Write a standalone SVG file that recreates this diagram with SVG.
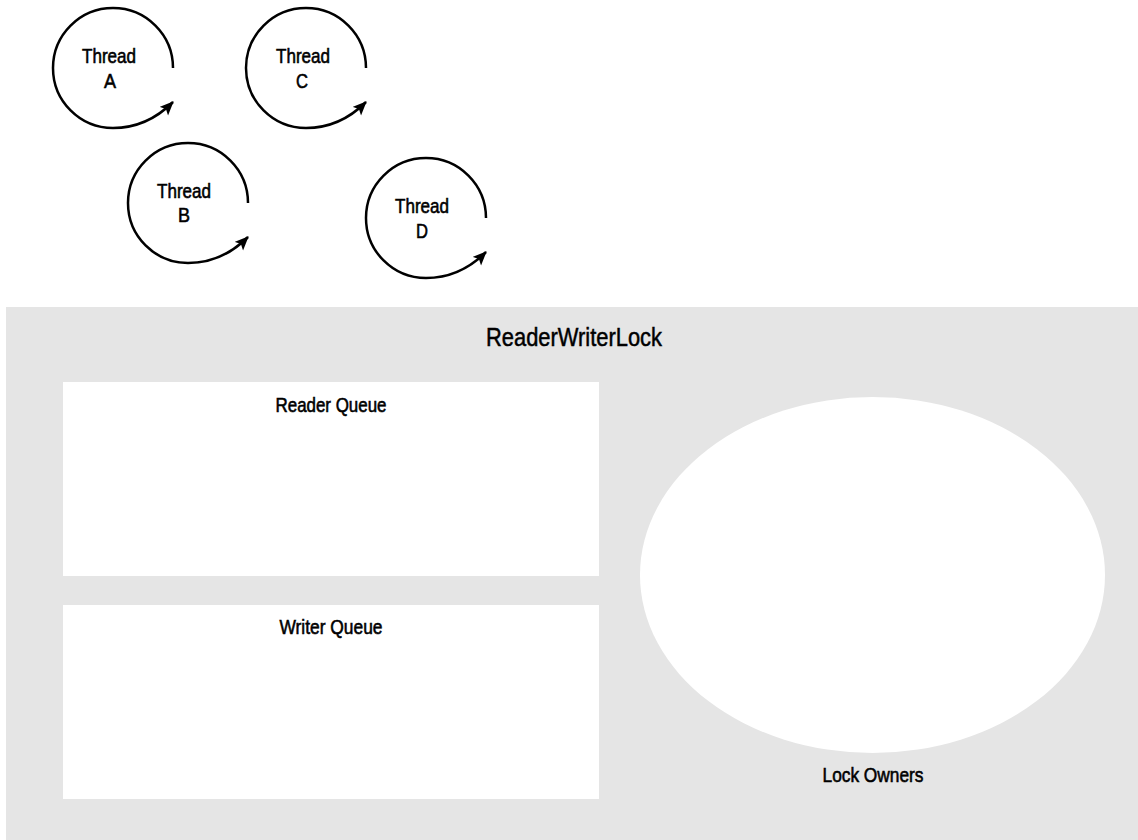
<svg xmlns="http://www.w3.org/2000/svg" width="1138" height="840" viewBox="0 0 1138 840">
<style>
.lbl{font-family:"Liberation Sans",Arial,sans-serif;font-size:21px;fill:#000;text-anchor:middle;stroke:#000;stroke-width:0.6}
.title{font-size:26px;stroke-width:0.5}
.spin{fill:none;stroke:#000;stroke-width:2.5}
.box{fill:#fff}
</style>
<defs>
<marker id="ah" markerUnits="userSpaceOnUse" markerWidth="16" markerHeight="14" refX="13" refY="6" orient="auto">
<path d="M0,0 L14,6 L0,12 L3,6 z" fill="#000"/>
</marker>
<path id="spiral" d="M60,0 A60,60 0 1 0 0,60 C25,60 44,50 60,34"/>
</defs>
<rect x="6" y="307" width="1132" height="533" fill="#e5e5e5"/>
<g id="threadA" transform="translate(113,68)">
<use href="#spiral" class="spin" marker-end="url(#ah)"/>
<text class="lbl" x="-4" y="-5" textLength="54" lengthAdjust="spacingAndGlyphs">Thread</text>
<text class="lbl" x="-3" y="20" textLength="12" lengthAdjust="spacingAndGlyphs">A</text>
</g>
<g id="threadC" transform="translate(306,68)">
<use href="#spiral" class="spin" marker-end="url(#ah)"/>
<text class="lbl" x="-3" y="-5" textLength="54" lengthAdjust="spacingAndGlyphs">Thread</text>
<text class="lbl" x="-4" y="20" textLength="12" lengthAdjust="spacingAndGlyphs">C</text>
</g>
<g id="threadB" transform="translate(188,203)">
<use href="#spiral" class="spin" marker-end="url(#ah)"/>
<text class="lbl" x="-4" y="-5" textLength="54" lengthAdjust="spacingAndGlyphs">Thread</text>
<text class="lbl" x="-4" y="19" textLength="12" lengthAdjust="spacingAndGlyphs">B</text>
</g>
<g id="threadD" transform="translate(426,218)">
<use href="#spiral" class="spin" marker-end="url(#ah)"/>
<text class="lbl" x="-4" y="-5" textLength="54" lengthAdjust="spacingAndGlyphs">Thread</text>
<text class="lbl" x="-4" y="20" textLength="12" lengthAdjust="spacingAndGlyphs">D</text>
</g>
<g id="lock">
<text class="lbl title" x="574" y="346" textLength="176" lengthAdjust="spacingAndGlyphs">ReaderWriterLock</text>
</g>
<g id="readerQueue">
<rect class="box" x="63" y="382" width="536" height="194"/>
<text class="lbl" x="331" y="412" textLength="111" lengthAdjust="spacingAndGlyphs">Reader Queue</text>
</g>
<g id="writerQueue">
<rect class="box" x="63" y="605" width="536" height="194"/>
<text class="lbl" x="331" y="634" textLength="103" lengthAdjust="spacingAndGlyphs">Writer Queue</text>
</g>
<g id="lockOwners">
<ellipse class="box" cx="872.5" cy="575" rx="232.5" ry="178"/>
<text class="lbl" x="873" y="782" textLength="101" lengthAdjust="spacingAndGlyphs">Lock Owners</text>
</g>
<g id="connectors"></g>
</svg>
